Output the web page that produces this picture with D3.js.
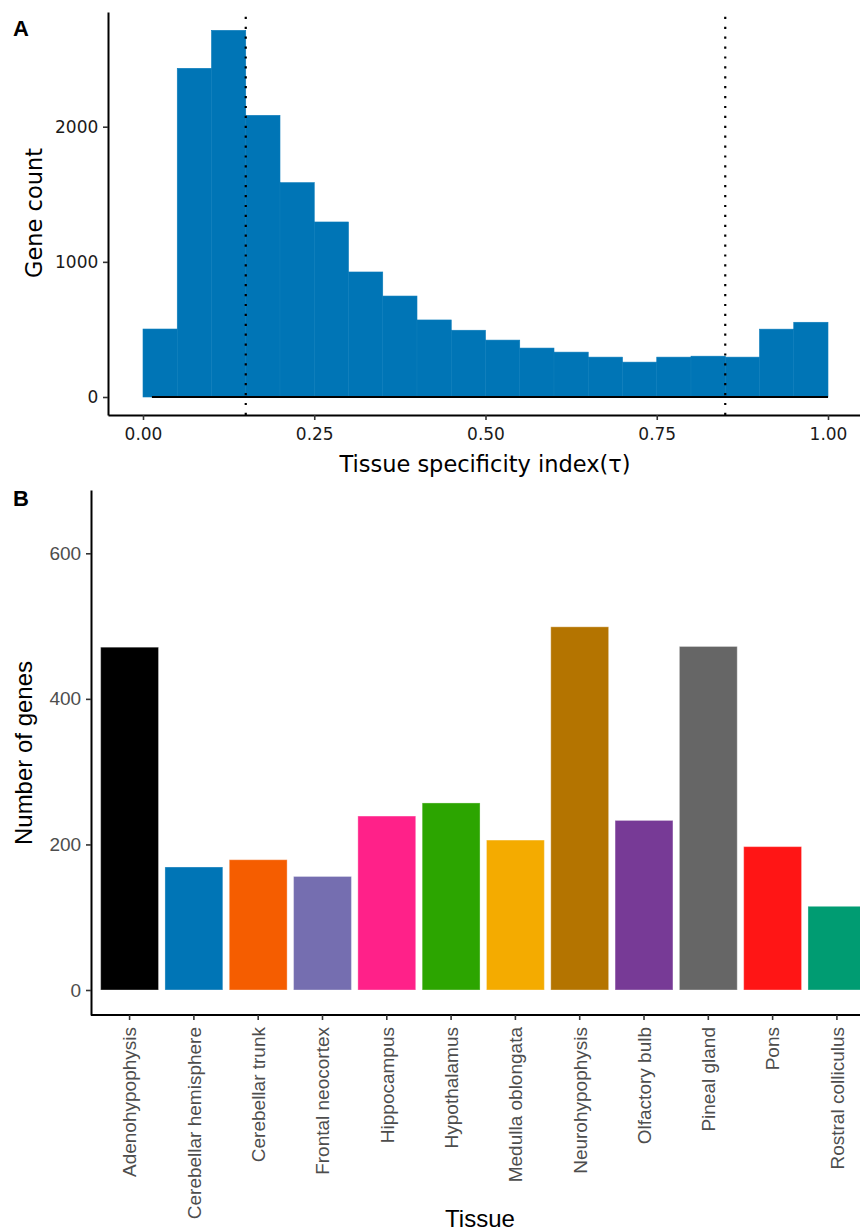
<!DOCTYPE html>
<html><head><meta charset="utf-8">
<script src="https://cdn.jsdelivr.net/npm/d3@7"></script>
<style>body{margin:0;background:#fff}svg{display:block}</style>
</head><body><svg id="c" width="860" height="1232"></svg>
<script>
// ---- Panel A data ----
const binStarts = [0.00,0.05,0.10,0.15,0.20,0.25,0.30,0.35,0.40,0.45,0.50,0.55,0.60,0.65,0.70,0.75,0.80,0.85,0.90,0.95];
const binCounts = [503,2432,2713,2084,1586,1295,925,747,570,494,421,362,332,295,258,295,302,295,502,553];
const binWidth = 0.05;
const tauTicks = [0,0.25,0.5,0.75,1];
const countTicks = [0,1000,2000];
const cutoffs = [0.15,0.85];
const densityX = [0.013,1.0];
const densityY = [0,0];
// ---- Panel B data ----
const tissues = ["Adenohypophysis","Cerebellar hemisphere","Cerebellar trunk","Frontal neocortex","Hippocampus","Hypothalamus","Medulla oblongata","Neurohypophysis","Olfactory bulb","Pineal gland","Pons","Rostral colliculus"];
const geneCounts = [471,169,179,156,239,257,206,499,233,472,197,115];
const tissueColors = ["#000000","#0075B6","#F55D00","#756EB0","#FF2189","#2CA500","#F4AB00","#B47400","#773A96","#666666","#FF1515","#009C72"];
const geneTicks = [0,200,400,600];

const svg = d3.select("#c");

// ================= Panel A =================
const xA0 = d3.scaleLinear().domain([0,1]).range([143,828]);
const yA0 = d3.scaleLinear().domain([0,2000]).range([397,126.7]);
const xA = d3.scaleLinear().domain([xA0.invert(108), xA0.invert(860)]).range([108,860]);
const yA = d3.scaleLinear().domain([yA0.invert(415), yA0.invert(12)]).range([415,12]);

const gA = svg.append("g");
gA.selectAll("rect.bin").data(binStarts).join("rect")
  .attr("class","bin")
  .attr("x", d => xA(d))
  .attr("width", d => xA(d+binWidth) - xA(d))
  .attr("y", (d,i) => yA(binCounts[i]))
  .attr("height", (d,i) => yA(0) - yA(binCounts[i]))
  .attr("fill","#0075B6")
  .attr("stroke","#0a7cbb").attr("stroke-width",0.6);

gA.append("path")
  .datum(densityX.map((v,i)=>[v,densityY[i]]))
  .attr("d", d3.line().x(d=>xA(d[0])).y(d=>yA(d[1])))
  .attr("stroke","#000").attr("stroke-width",2).attr("fill","none");

gA.selectAll("line.cut").data(cutoffs).join("line")
  .attr("class","cut")
  .attr("x1", d=>xA(d)).attr("x2", d=>xA(d))
  .attr("y1", yA.range()[0]).attr("y2", yA.range()[1])
  .attr("stroke","#000").attr("stroke-width",2.2)
  .attr("stroke-dasharray","2.2 7.7");

const axAx = gA.append("g").attr("transform","translate(0,415)")
  .call(d3.axisBottom(xA).tickValues(tauTicks).tickFormat(d3.format(".2f")).tickSize(5).tickSizeOuter(0));
const axAy = gA.append("g").attr("transform","translate(108,0)")
  .call(d3.axisLeft(yA).tickValues(countTicks).tickFormat(d3.format("d")).tickSize(5).tickSizeOuter(0));
[axAx, axAy].forEach(a => {
  a.select(".domain").attr("stroke","#000").attr("stroke-width",2);
  a.selectAll(".tick line").attr("stroke","#333").attr("stroke-width",1.6);
  a.selectAll(".tick text").attr("font-family","DejaVu Sans").attr("font-size",17).attr("fill","#1a1a1a");
});
axAx.selectAll(".tick text").attr("dy","1.0em");
axAy.selectAll(".tick text").attr("dx","-0.1em");

gA.append("text").attr("x",485).attr("y",472).attr("text-anchor","middle")
  .attr("font-family","DejaVu Sans").attr("font-size",22.5).attr("fill","#000")
  .text("Tissue specificity index(τ)");
gA.append("text").attr("transform","translate(42,213) rotate(-90)").attr("text-anchor","middle")
  .attr("font-family","DejaVu Sans").attr("font-size",22.5).attr("fill","#000")
  .text("Gene count");
svg.append("text").attr("x",13).attr("y",36).attr("font-family","Liberation Sans").attr("font-weight","bold")
  .attr("font-size",22).text("A");

// ================= Panel B =================
const xB = d3.scaleBand().domain(tissues).range([91,875.5]).paddingInner(0.1).paddingOuter(0.15);
const yB0 = d3.scaleLinear().domain([0,600]).range([990,553.3]);
const yB = d3.scaleLinear().domain([yB0.invert(1015), yB0.invert(490)]).range([1015,490]);

const gB = svg.append("g");
gB.selectAll("rect.bar").data(tissues).join("rect")
  .attr("class","bar")
  .attr("x", d => xB(d))
  .attr("width", xB.bandwidth())
  .attr("y", (d,i) => yB(geneCounts[i]))
  .attr("height", (d,i) => yB(0) - yB(geneCounts[i]))
  .attr("fill", (d,i) => tissueColors[i])
  .attr("stroke","#ffffff").attr("stroke-opacity",0.35).attr("stroke-width",1);

const axBx = gB.append("g").attr("transform","translate(0,1015)")
  .call(d3.axisBottom(xB).tickSize(5).tickSizeOuter(0));
const axBy = gB.append("g").attr("transform","translate(91,0)")
  .call(d3.axisLeft(yB).tickValues(geneTicks).tickFormat(d3.format("d")).tickSize(5).tickSizeOuter(0));
axBx.select(".domain").attr("d","M91,0H860");
[axBx, axBy].forEach(a => {
  a.select(".domain").attr("stroke","#000").attr("stroke-width",2);
  a.selectAll(".tick line").attr("stroke","#333").attr("stroke-width",1.6);
  a.selectAll(".tick text").attr("font-family","Liberation Sans").attr("font-size",19).attr("fill","#4d4d4d");
});
axBy.selectAll(".tick text").attr("dx","-0.1em");
axBx.selectAll(".tick text")
  .attr("transform","rotate(-90)")
  .attr("text-anchor","end")
  .attr("x",-12).attr("y",0).attr("dy","0.36em");

gB.append("text").attr("x",480).attr("y",1227).attr("text-anchor","middle")
  .attr("font-family","Liberation Sans").attr("font-size",24).attr("fill","#000")
  .text("Tissue");
gB.append("text").attr("transform","translate(32,753) rotate(-90)").attr("text-anchor","middle")
  .attr("font-family","Liberation Sans").attr("font-size",24).attr("fill","#000")
  .text("Number of genes");
svg.append("text").attr("x",13).attr("y",506).attr("font-family","Liberation Sans").attr("font-weight","bold")
  .attr("font-size",22).text("B");
</script></body></html>
